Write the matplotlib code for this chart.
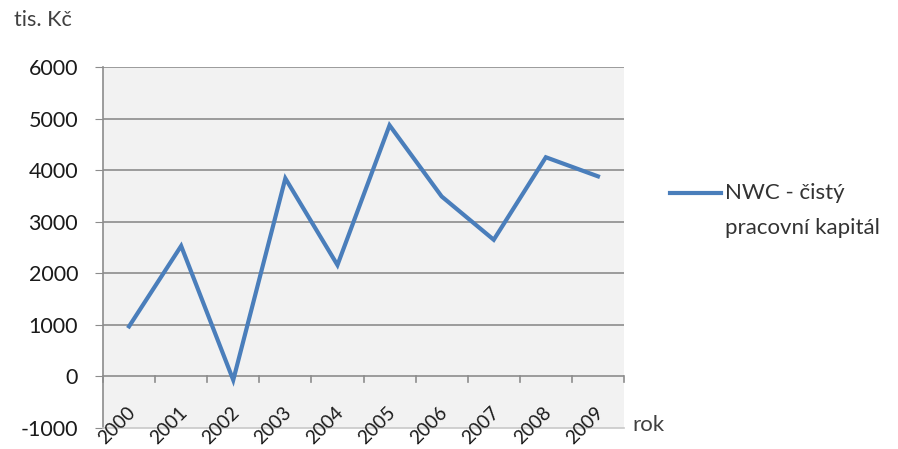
import matplotlib
matplotlib.use("Agg")
import matplotlib.pyplot as plt

plt.rcParams['font.family'] = ['Lato', 'DejaVu Sans']

# čistý pracovní kapitál v tis. Kč
roky = ['2000', '2001', '2002', '2003', '2004', '2005', '2006', '2007', '2008', '2009']
nwc = [970, 2530, -70, 3840, 2160, 4870, 3490, 2650, 4250, 3880]
y_ticks = [-1000, 0, 1000, 2000, 3000, 4000, 5000, 6000]

fig = plt.figure(figsize=(8.98, 4.49), dpi=100)
ax = fig.add_axes([103 / 898, 1 - 428 / 449, (624 - 103) / 898, (428 - 67) / 449])
ax.set_facecolor('#f2f2f2')

x = [i + 0.5 for i in range(len(roky))]
ax.plot(x, nwc, color='#4a7ebb', lw=3.0, solid_joinstyle='miter', zorder=3)

ax.set_xlim(0, len(roky))
ax.set_ylim(-1000, 6000)
ax.set_yticks(y_ticks)
ax.set_yticklabels([str(v) for v in y_ticks], fontsize=15.5, color='#1a1a1a')
ax.tick_params(axis='y', length=6, color='#8c8c8c', pad=12)
ax.set_xticks([])

for v in y_ticks[1:]:
    ax.axhline(v, color='#8c8c8c', lw=1.2, zorder=1)

for s in ['top', 'right']:
    ax.spines[s].set_visible(False)
ax.spines['bottom'].set_color('#c8c8c8')
ax.spines['bottom'].set_linewidth(1.2)
ax.spines['left'].set_color('#8c8c8c')
ax.spines['left'].set_linewidth(1.2)

# osa kategorií prochází nulou
for i in range(len(roky) + 1):
    ax.plot([i, i], [0, -110], color='#8c8c8c', lw=1.2, clip_on=False, zorder=2)

# popisky let šikmo pod grafem
for xi, r in zip(x, roky):
    ax.text(xi + 0.06, -640, r, rotation=45, ha='right', va='center',
            fontsize=13.8, color='#1a1a1a', clip_on=False, rotation_mode='anchor')

fig.text(14 / 898, 1 - 20 / 449, 'tis. Kč', fontsize=15.5, color='#404040',
         ha='left', va='center')
fig.text(632 / 898, 1 - 425 / 449, 'rok', fontsize=16, color='#404040',
         ha='left', va='center')

# legenda
fig.add_artist(plt.Line2D([670 / 898, 721 / 898], [1 - 193 / 449, 1 - 193 / 449],
                          color='#4a7ebb', lw=3.0, transform=fig.transFigure))
fig.text(725 / 898, 1 - 193 / 449, 'NWC - čistý', fontsize=16, color='#333333',
         ha='left', va='center')
fig.text(725 / 898, 1 - 228 / 449, 'pracovní kapitál', fontsize=16, color='#333333',
         ha='left', va='center')

fig.savefig('out.png', dpi=100)
